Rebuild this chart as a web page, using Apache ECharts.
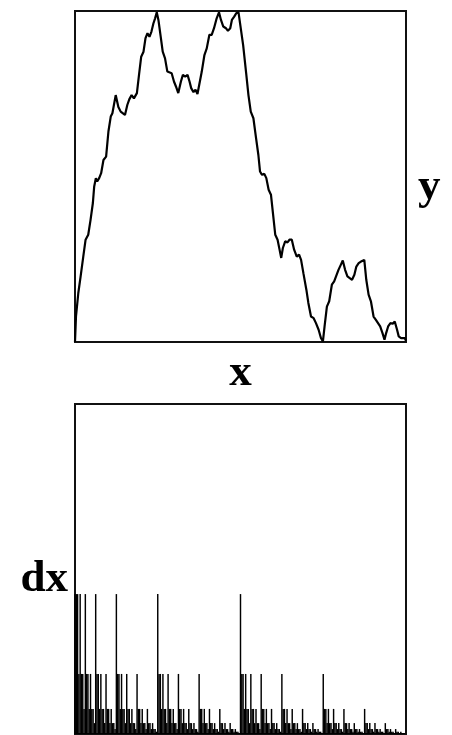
<!DOCTYPE html>
<html>
<head>
<meta charset="utf-8">
<script src="https://cdn.jsdelivr.net/npm/echarts@6/dist/echarts.min.js"></script>
<style>
  html, body { margin: 0; padding: 0; background: #fff; }
  #main { width: 452px; height: 735px; }
</style>
</head>
<body>
<div id="main"></div>
<script>
// 上图：曲线 y(x)，x、y 都归一化到 0..1
let xs = [
  0, 0.003, 0.010, 0.017, 0.025, 0.032, 0.040, 0.047, 0.054, 0.058, 0.063, 0.067, 0.073, 0.079, 0.086, 0.094,
  0.101, 0.108, 0.113, 0.123, 0.131, 0.138, 0.144, 0.151, 0.158, 0.164, 0.171, 0.178, 0.187, 0.194, 0.200, 0.207,
  0.213, 0.219, 0.225, 0.231, 0.237, 0.242, 0.247, 0.252, 0.259, 0.265, 0.272, 0.279, 0.285, 0.292, 0.299, 0.305,
  0.312, 0.320, 0.326, 0.333, 0.340, 0.346, 0.351, 0.358, 0.364, 0.370, 0.376, 0.383, 0.391, 0.398, 0.406, 0.413,
  0.420, 0.428, 0.435, 0.441, 0.448, 0.456, 0.462, 0.469, 0.474, 0.481, 0.487, 0.494, 0.499, 0.508, 0.517, 0.524,
  0.531, 0.539, 0.547, 0.554, 0.559, 0.565, 0.572, 0.578, 0.585, 0.592, 0.598, 0.605, 0.612, 0.618, 0.623, 0.628,
  0.635, 0.642, 0.648, 0.655, 0.662, 0.670, 0.677, 0.683, 0.690, 0.699, 0.705, 0.713, 0.721, 0.728, 0.736, 0.743,
  0.749, 0.754, 0.761, 0.768, 0.776, 0.783, 0.789, 0.796, 0.803, 0.809, 0.816, 0.823, 0.829, 0.837, 0.844, 0.850,
  0.857, 0.864, 0.870, 0.874, 0.880, 0.887, 0.894, 0.902, 0.909, 0.915, 0.922, 0.929, 0.935, 0.940, 0.946, 0.953,
  0.960, 0.966, 0.973, 0.978, 0.985, 0.991, 0.996, 1
]
let ys = [
  0, 0.077, 0.148, 0.198, 0.258, 0.309, 0.324, 0.369, 0.420, 0.470, 0.495, 0.485, 0.495, 0.510, 0.550, 0.560,
  0.636, 0.681, 0.691, 0.746, 0.710, 0.696, 0.701, 0.686, 0.716, 0.733, 0.746, 0.736, 0.752, 0.812, 0.862, 0.877,
  0.918, 0.933, 0.922, 0.938, 0.963, 0.978, 0.996, 0.973, 0.922, 0.877, 0.857, 0.817, 0.822, 0.812, 0.787, 0.772,
  0.752, 0.787, 0.807, 0.802, 0.807, 0.787, 0.767, 0.755, 0.762, 0.749, 0.755, 0.817, 0.867, 0.887, 0.928, 0.928,
  0.948, 0.978, 0.996, 0.973, 0.953, 0.948, 0.940, 0.948, 0.973, 0.983, 0.993, 0.996, 0.998, 0.897, 0.813, 0.746,
  0.696, 0.676, 0.616, 0.565, 0.515, 0.505, 0.508, 0.495, 0.460, 0.445, 0.389, 0.324, 0.309, 0.279, 0.254, 0.284,
  0.304, 0.301, 0.309, 0.309, 0.279, 0.258, 0.264, 0.248, 0.208, 0.158, 0.118, 0.077, 0.072, 0.057, 0.037, 0.012,
  0.002, 0.047, 0.107, 0.123, 0.173, 0.183, 0.178, 0.218, 0.233, 0.246, 0.218, 0.198, 0.200, 0.188, 0.203, 0.228,
  0.238, 0.243, 0.243, 0.248, 0.188, 0.143, 0.123, 0.077, 0.067, 0.062, 0.047, 0.027, 0.007, 0.027, 0.047, 0.057,
  0.055, 0.062, 0.037, 0.017, 0.012, 0.007, 0.012, 0.004
]

// 下图：dx，256 个等距位置上的高度（千分之一，满刻度 1000）
let dx = [
  424, 424, 424, 182, 424, 182, 182, 76, 424, 182, 182, 76, 182, 76, 76, 33,
  424, 182, 182, 76, 182, 76, 76, 33, 182, 76, 76, 33, 76, 33, 33, 15,
  424, 182, 182, 76, 182, 76, 76, 33, 182, 76, 76, 33, 76, 33, 33, 15,
  182, 76, 76, 33, 76, 33, 33, 15, 76, 33, 33, 15, 33, 15, 15, 7,
  424, 182, 182, 76, 182, 76, 76, 33, 182, 76, 76, 33, 76, 33, 33, 15,
  182, 76, 76, 33, 76, 33, 33, 15, 76, 33, 33, 15, 33, 15, 15, 7,
  182, 76, 76, 33, 76, 33, 33, 15, 76, 33, 33, 15, 33, 15, 15, 7,
  76, 33, 33, 15, 33, 15, 15, 7, 33, 15, 15, 7, 15, 7, 7, 3,
  424, 182, 182, 76, 182, 76, 76, 33, 182, 76, 76, 33, 76, 33, 33, 15,
  182, 76, 76, 33, 76, 33, 33, 15, 76, 33, 33, 15, 33, 15, 15, 7,
  182, 76, 76, 33, 76, 33, 33, 15, 76, 33, 33, 15, 33, 15, 15, 7,
  76, 33, 33, 15, 33, 15, 15, 7, 33, 15, 15, 7, 15, 7, 7, 3,
  182, 76, 76, 33, 76, 33, 33, 15, 76, 33, 33, 15, 33, 15, 15, 7,
  76, 33, 33, 15, 33, 15, 15, 7, 33, 15, 15, 7, 15, 7, 7, 3,
  76, 33, 33, 15, 33, 15, 15, 7, 33, 15, 15, 7, 15, 7, 7, 3,
  33, 15, 15, 7, 15, 7, 7, 3, 15, 7, 7, 3, 7, 3, 3, 2
]

let labelFont = {
  fontFamily: 'Liberation Serif',
  fontWeight: 'bold',
  fontSize: 45,
  color: '#000',
}

function render() {
  var myChart = echarts.init(document.getElementById('main'))
  let hidden = {
    axisLine: { show: false },
    axisTick: { show: false },
    axisLabel: { show: false },
    splitLine: { show: false },
  }
  var option = {
    animation: false,
    grid: [
      { left: 75, top: 11, width: 331, height: 331, show: true, borderColor: '#111', borderWidth: 2 },
      { left: 75, top: 404, width: 331, height: 330, show: true, borderColor: '#111', borderWidth: 2 },
    ],
    xAxis: [
      {
        gridIndex: 0, type: 'value', min: 0, max: 1, ...hidden,
        name: 'x', nameLocation: 'middle', nameGap: 9, nameTextStyle: labelFont,
      },
      { gridIndex: 1, type: 'value', min: 0, max: 256, ...hidden },
    ],
    yAxis: [
      {
        gridIndex: 0, type: 'value', min: 0, max: 1, position: 'right', ...hidden,
        name: 'y', nameLocation: 'middle', nameRotate: 0, nameGap: 12,
        nameTextStyle: { ...labelFont, verticalAlign: 'top', lineHeight: 22 },
      },
      {
        gridIndex: 1, type: 'value', min: 0, max: 1000, ...hidden,
        name: 'dx', nameLocation: 'middle', nameRotate: 0, nameGap: 7,
        nameTextStyle: { ...labelFont, verticalAlign: 'top', lineHeight: 20 },
      },
    ],
    series: [
      {
        type: 'line',
        xAxisIndex: 0,
        yAxisIndex: 0,
        data: xs.map((x, i) => [x, ys[i]]),
        symbol: 'none',
        lineStyle: { color: '#000', width: 2.2 },
      },
      {
        type: 'bar',
        xAxisIndex: 1,
        yAxisIndex: 1,
        data: dx.map((h, i) => [i, h]),
        barWidth: 1.45,
        itemStyle: { color: '#000' },
      },
    ],
  }
  myChart.setOption(option)
}
render()
</script>
</body>
</html>
